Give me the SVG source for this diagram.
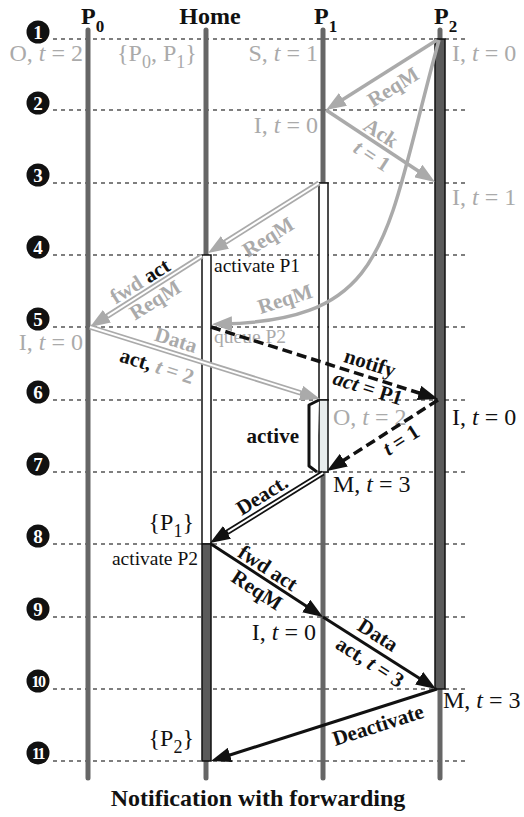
<svg xmlns="http://www.w3.org/2000/svg" width="524" height="817" viewBox="0 0 524 817">
<style>
text{font-family:"Liberation Serif","DejaVu Serif",serif}
.dot{stroke:#555;stroke-width:1.5;stroke-dasharray:4 4;fill:none}
.life{stroke:#666;stroke-width:5;stroke-linecap:round;fill:none}
.hdr{font-size:24px;font-weight:bold;fill:#111}
.st{font-size:24px}
.sm{font-size:19.5px}
.lb{font-size:21px;font-weight:bold}
.g{fill:#aaa}
.k{fill:#111}
.num circle{fill:#111}
.num text{fill:#fff;font-weight:bold;font-size:19px;text-anchor:middle}
.ga{stroke:#aaa;stroke-width:3.5;fill:none}
.gd{stroke:#aaa;stroke-width:5.5;fill:none}
.kd{stroke:#111;stroke-width:5.5;fill:none}
.in{stroke:#fff;stroke-width:2;fill:none}
.ks{stroke:#111;stroke-width:3;fill:none}
.kdash{stroke:#111;stroke-width:3.5;stroke-dasharray:10 5;fill:none}
.box{stroke:#111;stroke-width:1.5}
</style>
<defs>
<marker id="ag" viewBox="0 0 20 15" refX="10" refY="7.5" markerWidth="20" markerHeight="15" markerUnits="userSpaceOnUse" orient="auto"><path d="M0,0 L20,7.5 L0,15 z" fill="#aaa"/></marker>
<marker id="ak" viewBox="0 0 20 15" refX="10" refY="7.5" markerWidth="20" markerHeight="15" markerUnits="userSpaceOnUse" orient="auto"><path d="M0,0 L20,7.5 L0,15 z" fill="#111"/></marker>
</defs>
<rect width="524" height="817" fill="#fff"/>

<g id="grid">
<line class="dot" x1="53" y1="39" x2="468" y2="39"/>
<line class="dot" x1="53" y1="110" x2="468" y2="110"/>
<line class="dot" x1="53" y1="183" x2="468" y2="183"/>
<line class="dot" x1="53" y1="255" x2="468" y2="255"/>
<line class="dot" x1="53" y1="327" x2="468" y2="327"/>
<line class="dot" x1="53" y1="400" x2="468" y2="400"/>
<line class="dot" x1="53" y1="472" x2="468" y2="472"/>
<line class="dot" x1="53" y1="544" x2="468" y2="544"/>
<line class="dot" x1="53" y1="617" x2="468" y2="617"/>
<line class="dot" x1="53" y1="689" x2="468" y2="689"/>
<line class="dot" x1="53" y1="761" x2="468" y2="761"/>
</g>

<g id="steps" class="num">
<circle cx="38" cy="32" r="11.5"/><text x="38" y="39">1</text>
<circle cx="38" cy="103" r="11.5"/><text x="38" y="110">2</text>
<circle cx="38" cy="175" r="11.5"/><text x="38" y="182">3</text>
<circle cx="38" cy="247" r="11.5"/><text x="38" y="254">4</text>
<circle cx="38" cy="319" r="11.5"/><text x="38" y="326">5</text>
<circle cx="38" cy="392" r="11.5"/><text x="38" y="399">6</text>
<circle cx="38" cy="464" r="11.5"/><text x="38" y="471">7</text>
<circle cx="38" cy="536" r="11.5"/><text x="38" y="543">8</text>
<circle cx="38" cy="609" r="11.5"/><text x="38" y="616">9</text>
<circle cx="38" cy="681" r="11.5"/><text x="38" y="687" style="font-size:16px;letter-spacing:-1.5px">10</text>
<circle cx="38" cy="753" r="11.5"/><text x="38" y="759" style="font-size:16px;letter-spacing:-1.5px">11</text>
</g>

<g id="P0">
<text class="hdr" x="81" y="24">P<tspan dy="8" style="font-size:17px">0</tspan></text>
<line class="life" x1="88" y1="30" x2="88" y2="778"/>
</g>
<g id="Home">
<text class="hdr" x="210" y="24" text-anchor="middle">Home</text>
<line class="life" x1="206" y1="30" x2="206" y2="778"/>
<rect class="box" x="202" y="255" width="9" height="289" fill="#fff"/>
<rect class="box" x="202" y="544" width="9" height="217" fill="#5a5a5a"/>
</g>
<g id="P1">
<text class="hdr" x="314" y="24">P<tspan dy="8" style="font-size:17px">1</tspan></text>
<line class="life" x1="323" y1="30" x2="323" y2="778"/>
<rect class="box" x="319" y="183" width="9" height="217" fill="#fff"/>
<rect class="box" x="319" y="400" width="9" height="72" fill="#e8ecec"/>
<polyline points="319,400 309,405 309,466 317,472" fill="#fff" stroke="#111" stroke-width="3" stroke-linejoin="round"/>
<text class="lb k" x="299" y="443" text-anchor="end">active</text>
</g>
<g id="P2">
<text class="hdr" x="434" y="24">P<tspan dy="8" style="font-size:17px">2</tspan></text>
<line class="life" x1="440" y1="30" x2="440" y2="778"/>
<rect class="box" x="435" y="39" width="10" height="650" fill="#5a5a5a"/>
</g>

<g id="states">
<text class="st g" x="83" y="61" text-anchor="end">O, <tspan font-style="italic">t</tspan> = 2</text>
<text class="st g" x="117" y="61">{P<tspan dy="7" style="font-size:18px">0</tspan><tspan dy="-7">, P</tspan><tspan dy="7" style="font-size:18px">1</tspan><tspan dy="-7">}</tspan></text>
<text class="st g" x="318" y="61" text-anchor="end">S, <tspan font-style="italic">t</tspan> = 1</text>
<text class="st g" x="452" y="61">I, <tspan font-style="italic">t</tspan> = 0</text>
<text class="st g" x="318" y="133" text-anchor="end">I, <tspan font-style="italic">t</tspan> = 0</text>
<text class="st g" x="452" y="205">I, <tspan font-style="italic">t</tspan> = 1</text>
<text class="sm k" x="214" y="272">activate P1</text>
<text class="st g" x="83" y="350" text-anchor="end">I, <tspan font-style="italic">t</tspan> = 0</text>
<text class="sm g" x="214" y="343">queue P2</text>
<text class="st g" x="333" y="425">O, <tspan font-style="italic">t</tspan> = 2</text>
<text class="st k" x="452" y="425">I, <tspan font-style="italic">t</tspan> = 0</text>
<text class="st k" x="333" y="492">M, <tspan font-style="italic">t</tspan> = 3</text>
<text class="st k" x="194" y="530" text-anchor="end">{P<tspan dy="7" style="font-size:18px">1</tspan><tspan dy="-7">}</tspan></text>
<text class="sm k" x="198" y="565" text-anchor="end">activate P2</text>
<text class="st k" x="316" y="640" text-anchor="end">I, <tspan font-style="italic">t</tspan> = 0</text>
<text class="st k" x="443" y="708">M, <tspan font-style="italic">t</tspan> = 3</text>
<text class="st k" x="194" y="746" text-anchor="end">{P<tspan dy="7" style="font-size:18px">2</tspan><tspan dy="-7">}</tspan></text>
</g>

<g id="connectors">
<path class="ga" d="M437,40 L334.5,104.7" marker-end="url(#ag)"/>
<path class="ga" d="M326,110 L426.6,176.5" marker-end="url(#ag)"/>
<path class="ga" d="M439,40 C384,239 392,320 222,324" marker-end="url(#ag)"/>
<path class="gd" d="M319,183 L216.5,247.7" marker-end="url(#ag)"/>
<path class="in" d="M319,183 L225.8,241.8"/>
<path class="gd" d="M202,256 L98.5,321.6" marker-end="url(#ag)"/>
<path class="in" d="M202,256 L107.7,315.8"/>
<path class="gd" d="M90,327 L310.5,396" marker-end="url(#ag)"/>
<path class="in" d="M90,327 L300,392.7"/>
<path class="kdash" d="M211,327 L428.5,396" marker-end="url(#ak)"/>
<path class="kdash" d="M438,400 L335.4,465.6" marker-end="url(#ak)"/>
<path class="kd" d="M323,473 L218.5,537.7" marker-end="url(#ak)"/>
<path class="in" d="M323,473 L227.9,531.9"/>
<path class="ks" d="M211,544 L314.6,611.5" marker-end="url(#ak)"/>
<path class="ks" d="M323,617 L427.6,683.6" marker-end="url(#ak)"/>
<path class="ks" d="M437,689 L220.5,758" marker-end="url(#ak)"/>
</g>

<g id="labels">
<text class="lb g" transform="translate(393,87) rotate(-32)" y="7" text-anchor="middle">ReqM</text>
<text class="lb g" transform="translate(381,133) rotate(33)" y="7" text-anchor="middle">Ack</text>
<text class="lb g" transform="translate(372,156) rotate(33)" y="7" text-anchor="middle"><tspan font-style="italic">t</tspan> = 1</text>
<text class="lb g" transform="translate(285,299) rotate(-18)" y="7" text-anchor="middle">ReqM</text>
<text class="lb g" transform="translate(268,237) rotate(-32)" y="7" text-anchor="middle">ReqM</text>
<text class="lb g" transform="translate(140,281) rotate(-32)" y="7" text-anchor="middle">fwd <tspan class="k">act</tspan></text>
<text class="lb g" transform="translate(155,300) rotate(-32)" y="7" text-anchor="middle">ReqM</text>
<text class="lb g" transform="translate(176,340) rotate(17.5)" y="7" text-anchor="middle">Data</text>
<text class="lb g" transform="translate(157,366) rotate(17.5)" y="7" text-anchor="middle"><tspan class="k">act,</tspan> <tspan font-style="italic">t</tspan> = 2</text>
<text class="lb k" transform="translate(370,363) rotate(17.6)" y="7" text-anchor="middle">notify</text>
<text class="lb k" transform="translate(368,388) rotate(17.6)" y="7" text-anchor="middle"><tspan font-style="italic">act</tspan> = P1</text>
<text class="lb k" transform="translate(401,440) rotate(-32.6)" y="7" text-anchor="middle"><tspan font-style="italic">t</tspan> = 1</text>
<text class="lb k" transform="translate(262,495) rotate(-32)" y="7" text-anchor="middle">Deact.</text>
<text class="lb k" transform="translate(268,568) rotate(33)" y="7" text-anchor="middle">fwd act</text>
<text class="lb k" transform="translate(257,590) rotate(33)" y="7" text-anchor="middle">ReqM</text>
<text class="lb k" transform="translate(378,635) rotate(32.5)" y="7" text-anchor="middle">Data</text>
<text class="lb k" transform="translate(370,662) rotate(32.5)" y="7" text-anchor="middle">act, <tspan font-style="italic">t</tspan> = 3</text>
<text class="lb k" transform="translate(378,725) rotate(-17.7)" y="7" text-anchor="middle">Deactivate</text>
</g>

<text x="258" y="806" text-anchor="middle" style="font-size:24px;font-weight:bold;fill:#111">Notification with forwarding</text>
</svg>
